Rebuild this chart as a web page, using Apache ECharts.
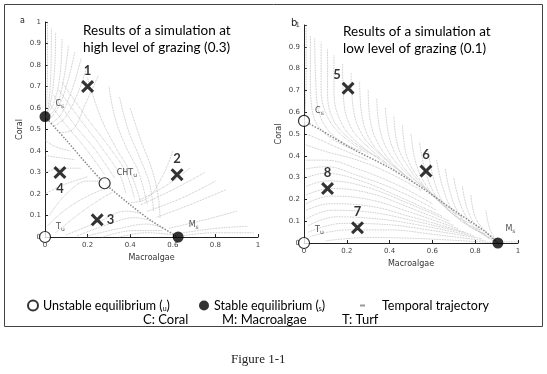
<!DOCTYPE html>
<html>
<head>
<meta charset="utf-8">
<script src="https://cdn.jsdelivr.net/npm/echarts@6/dist/echarts.min.js"></script>
<style>
html,body{margin:0;padding:0;background:#fff;}
#c{width:547px;height:374px;}
</style>
</head>
<body>
<div id="c"></div>
<script>
// ---------- data ----------
const xTickLabels = ['0', '0.2', '0.4', '0.6', '0.8', '1'];
const yTickLabels = ['0', '0.1', '0.2', '0.3', '0.4', '0.5', '0.6', '0.7', '0.8', '0.9', '1'];

// Panel a: high grazing (0.3)
const unstableA = [[0.28, 0.25], [0, 0]];
const unstableALabels = [['CHT', 'u'], ['T', 'u']];
const stableA = [[0, 0.56], [0.625, 0]];
const stableALabels = [['C', 's'], ['M', 's']];
const startsA = [[0.2, 0.70], [0.62, 0.29], [0.245, 0.08], [0.07, 0.30]];
const startsAIds = ['1', '2', '3', '4'];
const mainA = [[0, 0.56], [0.1, 0.45], [0.2, 0.335], [0.28, 0.25], [0.4, 0.15], [0.5, 0.075], [0.625, 0]];
const trajA = [
  [[0.012, 1], [0.012, 0.8], [0.008, 0.6]],
  [[0.03, 0.97], [0.028, 0.78], [0.015, 0.6], [0.003, 0.565]],
  [[0.05, 0.95], [0.045, 0.78], [0.025, 0.62], [0.003, 0.565]],
  [[0.08, 0.92], [0.07, 0.75], [0.04, 0.62], [0.005, 0.565]],
  [[0.11, 0.89], [0.085, 0.72], [0.05, 0.6], [0.01, 0.555]],
  [[0.14, 0.86], [0.1, 0.7], [0.06, 0.6], [0.02, 0.545]],
  [[0.17, 0.83], [0.125, 0.68], [0.075, 0.57], [0.03, 0.53]],
  [[0.2, 0.8], [0.15, 0.66], [0.09, 0.55], [0.04, 0.515]],
  [[0.25, 0.75], [0.19, 0.62], [0.13, 0.5], [0.07, 0.485]],
  [[0.02, 0.62], [0.1, 0.52], [0.2, 0.4], [0.28, 0.29]],
  [[0.04, 0.66], [0.14, 0.52], [0.24, 0.4], [0.33, 0.27]],
  [[0.06, 0.69], [0.17, 0.54], [0.27, 0.41], [0.35, 0.29], [0.38, 0.2]],
  [[0.08, 0.72], [0.2, 0.55], [0.3, 0.42], [0.38, 0.3], [0.42, 0.18]],
  [[0.2, 0.74], [0.26, 0.56], [0.33, 0.42], [0.4, 0.3], [0.45, 0.16]],
  [[0.3, 0.7], [0.33, 0.55], [0.38, 0.42], [0.44, 0.3], [0.48, 0.15]],
  [[0.35, 0.65], [0.39, 0.5], [0.44, 0.38], [0.49, 0.25], [0.51, 0.12]],
  [[0.4, 0.6], [0.45, 0.45], [0.5, 0.32], [0.53, 0.2], [0.54, 0.09]],
  [[0.6, 0.4], [0.55, 0.28], [0.48, 0.18], [0.4, 0.16]],
  [[0.68, 0.32], [0.57, 0.24], [0.44, 0.17]],
  [[0.75, 0.3], [0.6, 0.22], [0.45, 0.15]],
  [[0.8, 0.26], [0.64, 0.18], [0.48, 0.12]],
  [[0.85, 0.22], [0.68, 0.15], [0.52, 0.09]],
  [[0.9, 0.12], [0.75, 0.08], [0.58, 0.04]],
  [[0.95, 0.05], [0.8, 0.04], [0.62, 0.015]],
  [[0.0, 0.45], [0.05, 0.42], [0.12, 0.4]],
  [[0.0, 0.38], [0.06, 0.37], [0.14, 0.36]],
  [[0.0, 0.3], [0.08, 0.32], [0.17, 0.32]],
  [[0.0, 0.2], [0.08, 0.24], [0.2, 0.28]],
  [[0.02, 0.1], [0.1, 0.2], [0.2, 0.26], [0.26, 0.26]],
  [[0.01, 0.05], [0.1, 0.13], [0.22, 0.2], [0.3, 0.23]],
  [[0.05, 0.02], [0.15, 0.1], [0.25, 0.17], [0.32, 0.21]],
  [[0.1, 0.01], [0.25, 0.07], [0.38, 0.12], [0.45, 0.11]],
  [[0.15, 0.005], [0.3, 0.06], [0.42, 0.09], [0.5, 0.075]],
  [[0.2, 0.005], [0.35, 0.04], [0.48, 0.06], [0.56, 0.04]],
  [[0.27, 0.0], [0.42, 0.03], [0.55, 0.03]],
  [[0.35, 0.0], [0.48, 0.02], [0.6, 0.01]],
  [[0.98, 0.02], [0.8, 0.02], [0.64, 0.005]]
];

// Panel b: low grazing (0.1)
const unstableB = [[0, 0.56], [0, 0]];
const unstableBLabels = [['C', 's'], ['T', 'u']];
const stableB = [[0.906, 0]];
const stableBLabels = [['M', 's']];
const startsB = [[0.206, 0.71], [0.57, 0.33], [0.25, 0.07], [0.11, 0.25]];
const startsBIds = ['5', '6', '7', '8'];
const mainB = [[0, 0.56], [0.075, 0.52], [0.23, 0.43], [0.39, 0.35], [0.54, 0.26], [0.7, 0.15], [0.85, 0.05], [0.906, 0]];
const trajB = [
  [[0.01, 1], [0.01, 0.8], [0.005, 0.58]],
  [[0.03, 0.95], [0.03, 0.75], [0.04, 0.6], [0.1, 0.5], [0.23, 0.43]],
  [[0.05, 0.94], [0.055, 0.74], [0.07, 0.6], [0.14, 0.49], [0.27, 0.42]],
  [[0.08, 0.92], [0.08, 0.72], [0.1, 0.6], [0.17, 0.5], [0.3, 0.41]],
  [[0.11, 0.89], [0.11, 0.71], [0.13, 0.58], [0.21, 0.48], [0.35, 0.39]],
  [[0.14, 0.86], [0.14, 0.7], [0.17, 0.56], [0.25, 0.46], [0.39, 0.36]],
  [[0.18, 0.82], [0.185, 0.66], [0.22, 0.53], [0.3, 0.44], [0.43, 0.33]],
  [[0.22, 0.78], [0.23, 0.62], [0.27, 0.5], [0.35, 0.41], [0.47, 0.31]],
  [[0.26, 0.74], [0.27, 0.59], [0.31, 0.47], [0.39, 0.38], [0.5, 0.29]],
  [[0.3, 0.7], [0.31, 0.56], [0.35, 0.45], [0.43, 0.35], [0.54, 0.26]],
  [[0.34, 0.66], [0.355, 0.52], [0.4, 0.41], [0.48, 0.32], [0.58, 0.24]],
  [[0.38, 0.62], [0.4, 0.48], [0.45, 0.37], [0.53, 0.28], [0.62, 0.21]],
  [[0.42, 0.58], [0.44, 0.44], [0.5, 0.33], [0.58, 0.24], [0.66, 0.18]],
  [[0.46, 0.54], [0.48, 0.4], [0.54, 0.29], [0.62, 0.2], [0.7, 0.15]],
  [[0.5, 0.5], [0.525, 0.36], [0.58, 0.25], [0.66, 0.165], [0.74, 0.12]],
  [[0.54, 0.46], [0.57, 0.32], [0.62, 0.21], [0.7, 0.13], [0.78, 0.09]],
  [[0.58, 0.42], [0.61, 0.28], [0.66, 0.17], [0.74, 0.1], [0.82, 0.06]],
  [[0.62, 0.38], [0.65, 0.25], [0.7, 0.14], [0.78, 0.07], [0.86, 0.04]],
  [[0.66, 0.34], [0.69, 0.21], [0.74, 0.11], [0.82, 0.05], [0.88, 0.02]],
  [[0.7, 0.3], [0.73, 0.18], [0.78, 0.09], [0.85, 0.03], [0.906, 0]],
  [[0.74, 0.26], [0.765, 0.15], [0.81, 0.07], [0.87, 0.02]],
  [[0.78, 0.22], [0.8, 0.12], [0.85, 0.05], [0.906, 0]],
  [[0.85, 0.15], [0.87, 0.06], [0.906, 0]],
  [[0.01, 0.5], [0.06, 0.48], [0.15, 0.44], [0.3, 0.38]],
  [[0.01, 0.45], [0.1, 0.42], [0.25, 0.38], [0.4, 0.32], [0.55, 0.24]],
  [[0.01, 0.38], [0.1, 0.38], [0.25, 0.34], [0.45, 0.26], [0.6, 0.18]],
  [[0.01, 0.34], [0.1, 0.35], [0.25, 0.31], [0.45, 0.235], [0.62, 0.15]],
  [[0.01, 0.3], [0.1, 0.32], [0.25, 0.29], [0.45, 0.21], [0.65, 0.12]],
  [[0.01, 0.26], [0.11, 0.285], [0.28, 0.26], [0.48, 0.185], [0.68, 0.1]],
  [[0.01, 0.22], [0.12, 0.25], [0.3, 0.23], [0.5, 0.16], [0.7, 0.08]],
  [[0.01, 0.18], [0.12, 0.215], [0.3, 0.2], [0.5, 0.14], [0.72, 0.065]],
  [[0.01, 0.15], [0.12, 0.18], [0.3, 0.17], [0.5, 0.12], [0.75, 0.05]],
  [[0.01, 0.11], [0.13, 0.15], [0.32, 0.14], [0.52, 0.1], [0.78, 0.04]],
  [[0.02, 0.08], [0.15, 0.12], [0.35, 0.11], [0.55, 0.08], [0.8, 0.03]],
  [[0.02, 0.05], [0.18, 0.09], [0.38, 0.085], [0.58, 0.06], [0.83, 0.02]],
  [[0.03, 0.03], [0.2, 0.06], [0.4, 0.06], [0.6, 0.04], [0.85, 0.01]],
  [[0.1, 0.01], [0.3, 0.025], [0.55, 0.02], [0.906, 0]],
  [[0.906, 0.005], [1, 0.005]]
];

const titleA = 'Results of a simulation at\nhigh level of grazing (0.3)';
const titleB = 'Results of a simulation at\nlow level of grazing (0.1)';
const legendNames = ['Unstable equilibrium (u)', 'Stable equilibrium (s)', 'Temporal trajectory'];
const keyTexts = ['C: Coral', 'M: Macroalgae', 'T: Turf'];
const figureCaption = 'Figure 1-1';

// ---------- chart ----------
const chart = echarts.init(document.getElementById('c'), null, {renderer: 'canvas'});
const SANS = 'Lato';
const INK = '#000';
const XPATH = 'path://M0,2 L2,0 L6,4 L10,0 L12,2 L8,6 L12,10 L10,12 L6,8 L2,12 L0,10 L4,6 Z';

function xAxisFor(gi) {
  return {
    gridIndex: gi, type: 'value', min: 0, max: 1, interval: 0.2,
    name: 'Macroalgae', nameLocation: 'middle', nameGap: gi === 0 ? 15 : 17,
    nameTextStyle: {fontFamily: 'DejaVu Sans', fontSize: 8, color: '#333'},
    axisLine: {lineStyle: {color: '#222', width: 1}},
    axisTick: {inside: true, length: 3, lineStyle: {color: '#222'}},
    axisLabel: {fontSize: 7, color: '#444', fontFamily: 'DejaVu Sans', margin: 5,
      formatter: v => xTickLabels[Math.round(v / 0.2)]},
    splitLine: {show: false}
  };
}
function yAxisFor(gi) {
  return {
    gridIndex: gi, type: 'value', min: 0, max: 1, interval: 0.1,
    name: 'Coral', nameLocation: 'middle', nameGap: 21, nameRotate: 90,
    nameTextStyle: {fontFamily: 'DejaVu Sans', fontSize: 8, color: '#333'},
    axisLine: {lineStyle: {color: '#222', width: 1}},
    axisTick: {inside: true, length: 3, lineStyle: {color: '#222'}},
    axisLabel: {fontSize: 7, color: '#444', fontFamily: 'DejaVu Sans', margin: 4,
      formatter: v => yTickLabels[Math.round(v / 0.1)]},
    splitLine: {show: false}
  };
}

const eqRich = {
  m: {fontSize: 8, color: '#222', fontFamily: 'DejaVu Sans'},
  s: {fontSize: 6, color: '#222', fontFamily: 'DejaVu Sans', padding: [5, 0, 0, 0]}
};
function eqData(points, labels, offsets) {
  return points.map((p, i) => ({
    value: p,
    label: {show: true, position: 'right', offset: offsets[i],
      formatter: '{m|' + labels[i][0] + '}{s|' + labels[i][1] + '}', rich: eqRich}
  }));
}
function startData(points, ids, places) {
  return points.map((p, i) => ({
    value: p,
    label: {show: true, formatter: ids[i], position: places[i][0], offset: places[i][1],
      fontFamily: SANS, fontWeight: 'bold', fontSize: 13, color: INK, distance: 3}
  }));
}
function trajSeries(list, gi) {
  return list.map(pts => ({
    type: 'line', name: legendNames[2], xAxisIndex: gi, yAxisIndex: gi,
    data: pts, smooth: 0.4, symbol: 'none', silent: true, clip: false, z: 1,
    itemStyle: {color: '#999'},
    lineStyle: {color: '#b4b4b4', width: 0.8, type: 'dotted'}
  }));
}
function mainSeries(pts, gi) {
  return {
    type: 'line', name: legendNames[2], xAxisIndex: gi, yAxisIndex: gi,
    data: pts, smooth: 0.3, symbol: 'none', silent: true, clip: false, z: 2,
    itemStyle: {color: '#999'},
    lineStyle: {color: '#8a8a8a', width: 1.5, type: 'dotted'}
  };
}
function unstableSeries(data, gi) {
  return {type: 'scatter', name: legendNames[0], xAxisIndex: gi, yAxisIndex: gi, data,
    symbol: 'circle', symbolSize: 11, clip: false, z: 5,
    itemStyle: {color: '#fff', borderColor: '#000', borderWidth: 1.2}};
}
function stableSeries(data, gi) {
  return {type: 'scatter', name: legendNames[1], xAxisIndex: gi, yAxisIndex: gi, data,
    symbol: 'circle', symbolSize: 11, clip: false, z: 5,
    itemStyle: {color: '#000', borderColor: '#000', borderWidth: 0}};
}
function startSeries(data, gi) {
  return {type: 'scatter', name: 'Initial state', xAxisIndex: gi, yAxisIndex: gi, data,
    symbol: XPATH, symbolSize: 13, clip: false, z: 6,
    itemStyle: {color: '#000'}};
}

const series = [].concat(
  trajSeries(trajA, 0), [mainSeries(mainA, 0)],
  trajSeries(trajB, 1), [mainSeries(mainB, 1)],
  [
    unstableSeries(eqData(unstableA, unstableALabels, [[1, -10], [0, -10]]), 0),
    stableSeries(eqData(stableA, stableALabels, [[0, -13], [0, -12]]), 0),
    startSeries(startData(startsA, startsAIds,
      [['top', [0, 0]], ['top', [0, 0]], ['right', [0, 0]], ['bottom', [0, 0]]]), 0),
    unstableSeries(eqData(unstableB, unstableBLabels, [[0, -10], [0, -13]]), 1),
    stableSeries(eqData(stableB, stableBLabels, [[-3, -14]]), 1),
    startSeries(startData(startsB, startsBIds,
      [['top', [-11, 3]], ['top', [0, 0]], ['top', [0, 0]], ['top', [0, 0]]]), 1)
  ]
);

const legendText = {fontFamily: SANS, fontSize: 12.5, color: INK,
  rich: {sub: {fontFamily: SANS, fontSize: 7, color: INK, padding: [6, 0, 0, 0]}}};
const legendFmt = name => name.replace(/\((\w)\)/, '({sub|$1})');
const titleStyle = {fontFamily: SANS, fontSize: 13.5, fontWeight: 'normal', color: INK, lineHeight: 17};

const option = {
  backgroundColor: '#fff',
  animation: false,
  title: [
    {text: titleA, left: 83, top: 22, padding: 0, textStyle: titleStyle},
    {text: titleB, left: 343, top: 23, padding: 0, textStyle: titleStyle},
    {text: 'a', left: 20, top: 17, padding: 0, textStyle: {fontFamily: 'DejaVu Sans', fontSize: 8, fontWeight: 'normal', color: '#222'}},
    {text: 'b', left: 291, top: 18, padding: 0, textStyle: {fontFamily: 'DejaVu Sans', fontSize: 10, fontWeight: 'normal', color: '#222'}},
    {text: figureCaption, left: 231, top: 353, padding: 0, textStyle: {fontFamily: 'Liberation Serif', fontSize: 13, fontWeight: 'normal', color: '#222'}}
  ],
  grid: [
    {left: 45, top: 22, width: 213, height: 215},
    {left: 304, top: 25, width: 214, height: 218}
  ],
  xAxis: [xAxisFor(0), xAxisFor(1)],
  yAxis: [yAxisFor(0), yAxisFor(1)],
  legend: [
    {data: [legendNames[0]], left: 22, top: 294, icon: 'circle', itemWidth: 10, itemHeight: 10,
      formatter: legendFmt, textStyle: legendText, selectedMode: false},
    {data: [legendNames[1]], left: 194, top: 294, icon: 'circle', itemWidth: 10, itemHeight: 10,
      formatter: legendFmt, textStyle: legendText, selectedMode: false},
    {data: [legendNames[2]], left: 355, top: 294, icon: 'rect', itemWidth: 5, itemHeight: 2, itemGap: 0,
      itemStyle: {color: '#999', borderWidth: 0}, textStyle: Object.assign({}, legendText, {padding: [0, 0, 0, 12]}),
      selectedMode: false}
  ],
  graphic: [
    {type: 'rect', shape: {x: 4.5, y: 4.5, width: 538, height: 322}, style: {fill: 'none', stroke: '#444', lineWidth: 1}, silent: true, z: -1},
    {type: 'text', left: 143, top: 313, style: {text: keyTexts[0], font: '13px Lato', fill: INK}},
    {type: 'text', left: 222, top: 313, style: {text: keyTexts[1], font: '13px Lato', fill: INK}},
    {type: 'text', left: 342, top: 313, style: {text: keyTexts[2], font: '13px Lato', fill: INK}}
  ],
  series
};
chart.setOption(option);
</script>
</body>
</html>
